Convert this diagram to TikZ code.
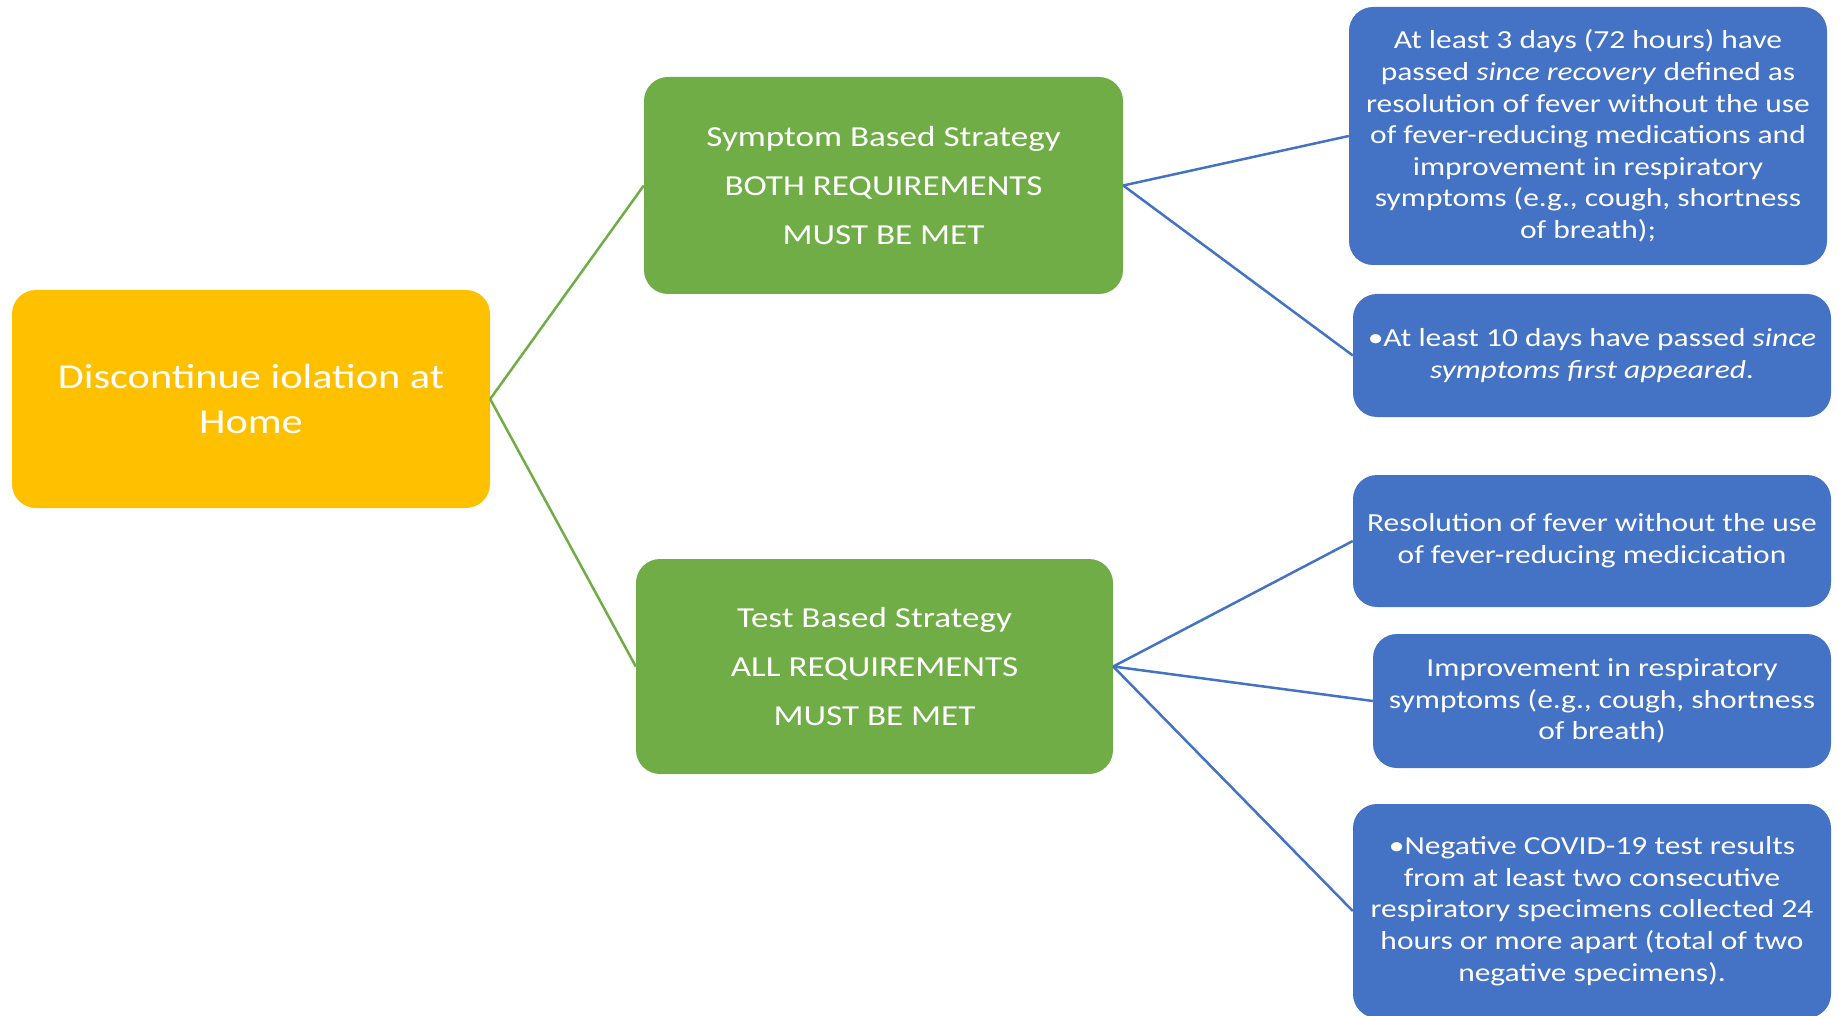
\documentclass[tikz,border=0pt]{standalone}
\usepackage{fontspec}
\setmainfont{Carlito}[FakeStretch=1.21]
\definecolor{rootc}{HTML}{FFC000}
\definecolor{greenc}{HTML}{70AD47}
\definecolor{bluec}{HTML}{4472C4}
\begin{document}
\begin{tikzpicture}[x=1pt,y=-1pt,
  box/.style={rectangle, rounded corners=24pt, inner sep=0pt, align=center, text=white},
  rootbox/.style={box, fill=rootc, font=\fontsize{35}{45}\selectfont},
  greenbox/.style={box, fill=greenc, font=\fontsize{29}{49}\selectfont},
  bluebox/.style={box, fill=bluec, font=\fontsize{26}{31.6}\selectfont},
  glink/.style={draw=greenc, line width=2.5pt},
  blink/.style={draw=bluec, line width=2.5pt}]
\clip (0,0) rectangle (1839,1016);
\useasboundingbox (0,0) rectangle (1839,1016);

\node[rootbox, minimum width=478pt, minimum height=218pt] (root) at (251,399)
  {Discontinue iolation at\\Home};
\node[greenbox, minimum width=479pt, minimum height=217pt] (sym) at (883.5,185.5)
  {Symptom Based Strategy\\BOTH REQUIREMENTS\\MUST BE MET};
\node[greenbox, minimum width=477pt, minimum height=215pt] (test) at (874.5,666.5)
  {Test Based Strategy\\ALL REQUIREMENTS\\MUST BE MET};

\node[bluebox, minimum width=478pt, minimum height=258pt] (b1) at (1588,136)
  {At least 3 days (72 hours) have\\passed \textit{since recovery} defined as\\resolution of fever without the use\\of fever-reducing medications and\\improvement in respiratory\\symptoms (e.g., cough, shortness\\of breath);};
\node[bluebox, minimum width=478pt, minimum height=123pt] (b2) at (1592,355.5)
  {•At least 10 days have passed \textit{since}\\\textit{symptoms first appeared}.};
\node[bluebox, minimum width=478pt, minimum height=132pt] (b3) at (1592,541)
  {Resolution of fever without the use\\of fever-reducing medicication};
\node[bluebox, minimum width=458pt, minimum height=134pt] (b4) at (1602,701)
  {Improvement in respiratory\\symptoms (e.g., cough, shortness\\of breath)};
\node[bluebox, minimum width=478pt, minimum height=214pt] (b5) at (1592,911)
  {•Negative COVID-19 test results\\from at least two consecutive\\respiratory specimens collected 24\\hours or more apart (total of two\\negative specimens).};

\draw[glink] (root.east) -- (sym.west);
\draw[glink] (root.east) -- (test.west);
\draw[blink] (sym.east) -- (b1.west);
\draw[blink] (sym.east) -- (b2.west);
\draw[blink] (test.east) -- (b3.west);
\draw[blink] (test.east) -- (b4.west);
\draw[blink] (test.east) -- (b5.west);
\end{tikzpicture}
\end{document}
